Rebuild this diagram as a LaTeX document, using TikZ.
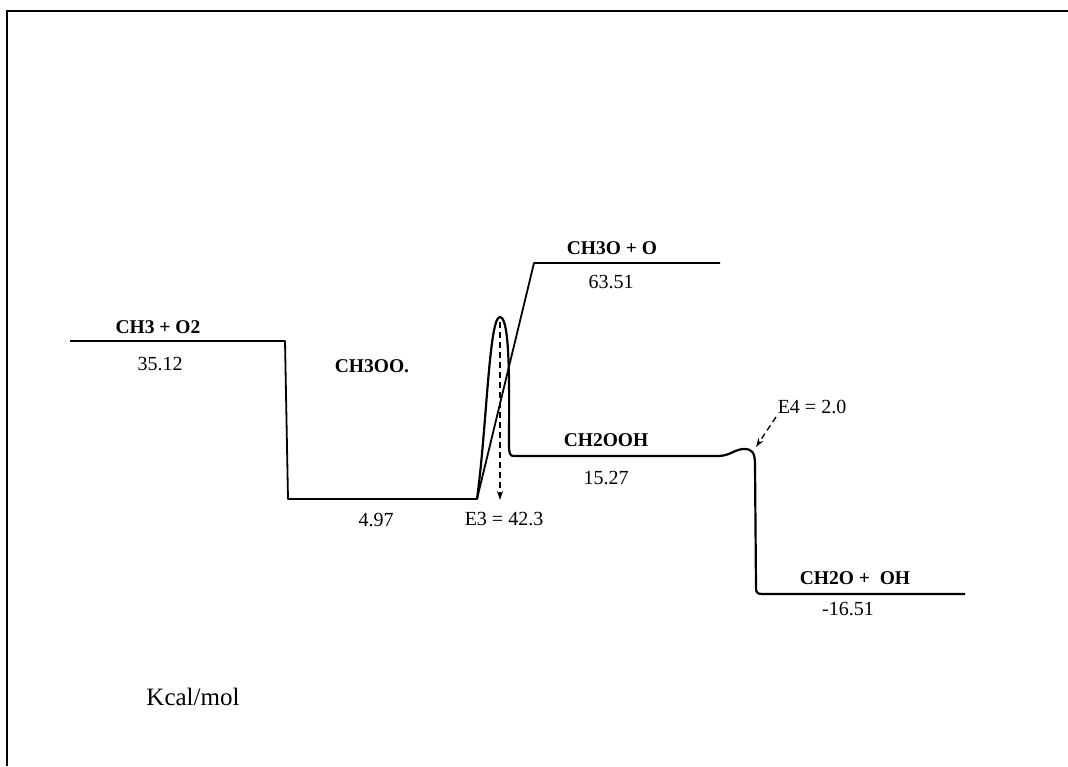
\documentclass[tikz,border=0pt]{standalone}
\usepackage{fontspec}
\setmainfont{Liberation Serif}
\usetikzlibrary{arrows.meta}
\tikzset{
  lvl/.style={line width=1.8pt, line join=round},
  frame/.style={line width=2pt},
  spec/.style={font=\fontsize{19.5}{22}\selectfont\bfseries, inner sep=0pt},
  val/.style={font=\fontsize{20}{22}\selectfont, inner sep=0pt},
  note/.style={font=\fontsize{20}{22}\selectfont, inner sep=0pt},
  darr/.style={line width=1.3pt, dash pattern=on 6pt off 4pt, -{Stealth[length=9pt,width=6pt]}}
}
\begin{document}
\begin{tikzpicture}[x=1pt,y=-1pt]
\useasboundingbox (0,0) rectangle (1068,766);
% frame (top and left edges)
\draw[frame] (7,766) -- (7,11) -- (1068,11);
% coordinates
\coordinate (a1) at (70,341);
\coordinate (a2) at (285,341);
\coordinate (b1) at (288,499);
\coordinate (b2) at (477,499);
\coordinate (c1) at (534,263);
\coordinate (c2) at (720,263);
\coordinate (pk) at (500,317);
\coordinate (d1) at (514,456);
\coordinate (d2) at (718,456);
\coordinate (bp) at (744,449);
\coordinate (e1) at (757,593);
\coordinate (e2) at (965,594);
% energy path
\draw[lvl] (a1) -- (a2) -- (b1) -- (b2) -- (c1) -- (c2);
\draw[lvl, line width=2.2pt] (b2) .. controls (487,425) and (489,317) .. (pk)
   .. controls (511,317) and (509,400) .. (509,445)
   .. controls (509,454) and (510,456) .. (d1) -- (d2)
   .. controls (730,456) and (735,449) .. (bp)
   .. controls (752,449) and (755,452) .. (755,465) -- (756,588)
   .. controls (756,592) and (757,594) .. (762,594) -- (e2);
% dashed arrows
\coordinate (e3top) at (500,322);
\coordinate (e3bot) at (500,500);
\draw[darr] (e3top) -- (e3bot);
\coordinate (e4s) at (776,417);
\coordinate (e4t) at (756,447);
\draw[darr] (e4s) -- (e4t);
% labels
\node[spec] (l1) at (158,327) {CH3 + O2};
\node[val]  (v1) at (160,364) {35.12};
\node[spec] (l2) at (372,366) {CH3OO.};
\node[val]  (v2) at (376,520) {4.97};
\node[spec] (l3) at (612,248) {CH3O + O};
\node[val]  (v3) at (611,282) {63.51};
\node[spec] (l4) at (606,440) {CH2OOH};
\node[val]  (v4) at (606,478) {15.27};
\node[spec] (l5) at (855,578) {CH2O +\ \ OH};
\node[val]  (v5) at (848,609) {-16.51};
\node[note] (n3) at (504,519) {E3 = 42.3};
\node[note] (n4) at (812,407) {E4 = 2.0};
\node[font=\fontsize{25}{28}\selectfont, inner sep=0pt] (u) at (193,697) {Kcal/mol};
\end{tikzpicture}
\end{document}
